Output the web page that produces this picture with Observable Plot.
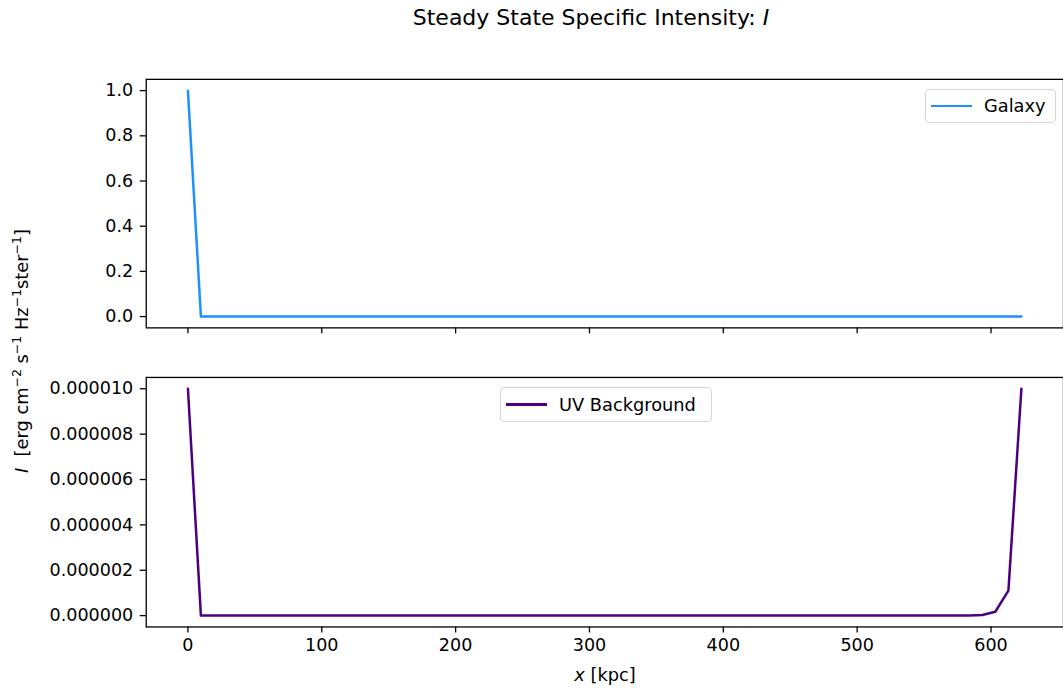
<!DOCTYPE html>
<html><head><meta charset="utf-8">
<script src="https://cdn.jsdelivr.net/npm/d3@7"></script>
<script src="https://cdn.jsdelivr.net/npm/@observablehq/plot@0.6"></script>
<style>
html,body{margin:0;padding:0;overflow:hidden;background:#fff;}
#wrap{position:relative;width:1063px;height:691px;font-family:"DejaVu Sans",sans-serif;color:#000;overflow:hidden;}
#wrap svg{position:absolute;left:0;overflow:visible;}
.title{position:absolute;top:5px;left:591px;transform:translateX(-50%);font-size:22px;white-space:nowrap;}
.xlabel{position:absolute;top:664px;left:605px;transform:translateX(-50%);font-size:17.8px;white-space:nowrap;}
.ylabel{position:absolute;left:21px;top:351px;transform:translate(-50%,-50%) rotate(-90deg);font-size:17.8px;white-space:nowrap;}
.ylabel sup{font-size:12.5px;vertical-align:7px;line-height:0;}
.legend{position:absolute;border:1.3px solid #d6d6d6;border-radius:4px;background:rgba(255,255,255,0.8);font-size:17.8px;box-sizing:border-box;}
.legend .swatch{position:absolute;height:2.5px;}
.legend .lbl{position:absolute;white-space:nowrap;line-height:22px;}
</style></head><body><div id="wrap"></div>
<script>
const xKpc = [0, 9.7, 19.5, 29.2, 38.9, 48.6, 58.4, 68.1, 77.8, 87.6, 97.3, 107.0, 116.8, 126.5, 136.2, 145.9, 155.7, 165.4, 175.1, 184.9, 194.6, 204.3, 214.1, 223.8, 233.5, 243.2, 253.0, 262.7, 272.4, 282.2, 291.9, 301.6, 311.4, 321.1, 330.8, 340.5, 350.3, 360.0, 369.7, 379.5, 389.2, 398.9, 408.6, 418.4, 428.1, 437.8, 447.6, 457.3, 467.0, 476.8, 486.5, 496.2, 505.9, 515.7, 525.4, 535.1, 544.9, 554.6, 564.3, 574.1, 583.8, 593.5, 603.2, 613.0, 622.7];
const galaxyI = [1.0, 0.0001, 0, 0, 0, 0, 0, 0, 0, 0, 0, 0, 0, 0, 0, 0, 0, 0, 0, 0, 0, 0, 0, 0, 0, 0, 0, 0, 0, 0, 0, 0, 0, 0, 0, 0, 0, 0, 0, 0, 0, 0, 0, 0, 0, 0, 0, 0, 0, 0, 0, 0, 0, 0, 0, 0, 0, 0, 0, 0, 0, 0, 0, 0, 0];
const uvI = [1.0e-5, 1e-10, 0, 0, 0, 0, 0, 0, 0, 0, 0, 0, 0, 0, 0, 0, 0, 0, 0, 0, 0, 0, 0, 0, 0, 0, 0, 0, 0, 0, 0, 0, 0, 0, 0, 0, 0, 0, 0, 0, 0, 0, 0, 0, 0, 0, 0, 0, 0, 0, 0, 0, 0, 0, 0, 0, 0, 0, 0, 1e-10, 2e-9, 2.5e-8, 1.7e-7, 1.1e-6, 1.0e-5];
const xTicks = [0, 100, 200, 300, 400, 500, 600];
const galaxyTicks = [0.0, 0.2, 0.4, 0.6, 0.8, 1.0];
const uvTicks = [0, 2e-6, 4e-6, 6e-6, 8e-6, 1e-5];
const seriesNames = ["Galaxy", "UV Background"];
const seriesColors = ["#1E90FF", "#4B0082"];

const galaxyData = xKpc.map((x, i) => ({x, I: galaxyI[i]}));
const uvData = xKpc.map((x, i) => ({x, I: uvI[i]}));

const wrap = document.getElementById("wrap");
const xDomain = [-31.15, 654.15];
const common = {
  width: 1065, marginLeft: 146, marginRight: 0,
  x: {domain: xDomain},
  style: {fontFamily: "DejaVu Sans", fontSize: "17.6px", color: "#000", background: "transparent", overflow: "visible"}
};

const p1 = Plot.plot({
  ...common,
  height: 345, marginTop: 79, marginBottom: 17,
  y: {domain: [-0.05, 1.05]},
  marks: [
    Plot.line(galaxyData, {x: "x", y: "I", stroke: seriesColors[0], strokeWidth: 2.5}),
    Plot.frame({stroke: "#000", strokeWidth: 1.3}),
    Plot.axisY({ticks: galaxyTicks, tickFormat: d => d.toFixed(1), tickSize: 6, tickPadding: 7, label: null, strokeWidth: 1.3}),
    Plot.axisX({ticks: xTicks, tickFormat: () => "", tickSize: 6, label: null, strokeWidth: 1.3})
  ]
});
p1.style.top = "0px";
wrap.appendChild(p1);

const p2 = Plot.plot({
  ...common,
  height: 346, marginTop: 32, marginBottom: 64,
  y: {domain: [-5e-7, 1.05e-5]},
  marks: [
    Plot.line(uvData, {x: "x", y: "I", stroke: seriesColors[1], strokeWidth: 2.5}),
    Plot.frame({stroke: "#000", strokeWidth: 1.3}),
    Plot.axisY({ticks: uvTicks, tickFormat: d => d.toFixed(6), tickSize: 6, tickPadding: 7, label: null, strokeWidth: 1.3}),
    Plot.axisX({ticks: xTicks, tickFormat: d => String(d), tickSize: 6, tickPadding: 6, label: null, strokeWidth: 1.3})
  ]
});
p2.style.top = "345px";
wrap.appendChild(p2);

function addDiv(cls, html, css) {
  const d = document.createElement("div");
  d.className = cls;
  d.innerHTML = html;
  Object.assign(d.style, css || {});
  wrap.appendChild(d);
  return d;
}
addDiv("title", "Steady State Specific Intensity: <i>I</i>");
addDiv("xlabel", "<i>x</i> [kpc]");
addDiv("ylabel", "<i>I</i>&nbsp;&nbsp;[erg cm<sup>−2</sup> s<sup>−1</sup> Hz<sup>−1</sup>ster<sup>−1</sup>]");

function legend(left, top, w, h, name, color) {
  const lg = addDiv("legend", "", {left: left + "px", top: top + "px", width: w + "px", height: h + "px"});
  const sw = document.createElement("div");
  sw.className = "swatch";
  Object.assign(sw.style, {left: "5px", top: (h / 2 - 2.5) + "px", width: "41px", background: color});
  lg.appendChild(sw);
  const t = document.createElement("div");
  t.className = "lbl";
  t.textContent = name;
  Object.assign(t.style, {left: "58px", top: (h / 2 - 12) + "px"});
  lg.appendChild(t);
}
legend(925, 89, 131, 34, seriesNames[0], seriesColors[0]);
legend(500, 387, 212, 35, seriesNames[1], seriesColors[1]);
</script></body></html>
